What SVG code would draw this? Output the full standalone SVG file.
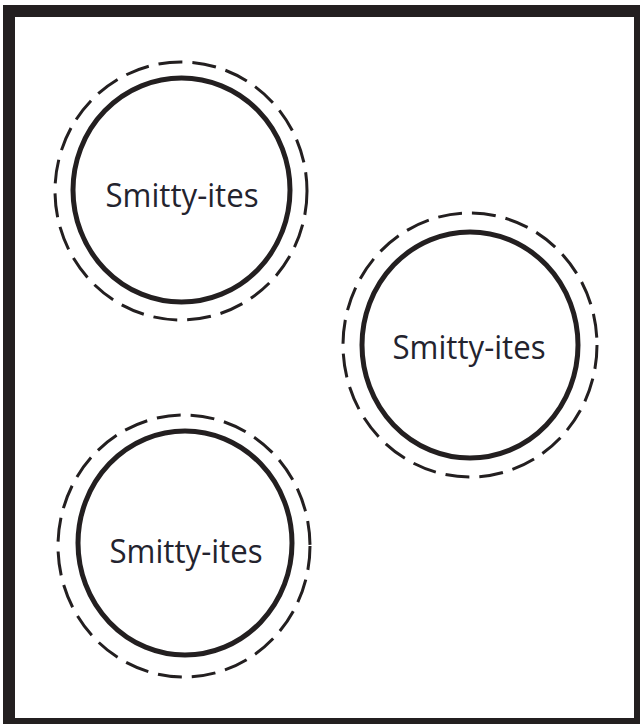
<svg xmlns="http://www.w3.org/2000/svg" width="643" height="727" viewBox="0 0 643 727">
<style>
.solid{fill:none;stroke:#231f20;stroke-width:5}
.dash{fill:none;stroke:#231f20;stroke-width:3;stroke-dasharray:24 10}
.lbl{font-family:"Open Sans","Noto Sans",sans-serif;font-size:33px;fill:#23232e;text-anchor:middle}
</style>
<rect width="643" height="727" fill="#ffffff"/>
<path d="M3,5 L640,5 L640,724 L3,724 Z M15,17 L634,17 L634,718 L15,718 Z" fill="#231f20" fill-rule="evenodd"/>
<g id="node1">
<ellipse class="dash" cx="181" cy="191" rx="126" ry="129"/>
<ellipse class="solid" cx="181.5" cy="190" rx="108.5" ry="112"/>
<text class="lbl" x="182" y="207" textLength="153" lengthAdjust="spacingAndGlyphs">Smitty-ites</text>
</g>
<g id="node2">
<ellipse class="dash" cx="470" cy="345" rx="127" ry="132"/>
<ellipse class="solid" cx="470" cy="345" rx="108" ry="113"/>
<text class="lbl" x="469" y="359" textLength="153" lengthAdjust="spacingAndGlyphs">Smitty-ites</text>
</g>
<g id="node3">
<ellipse class="dash" cx="184" cy="546" rx="126" ry="131"/>
<ellipse class="solid" cx="185" cy="543" rx="107" ry="112"/>
<text class="lbl" x="186" y="563" textLength="153" lengthAdjust="spacingAndGlyphs">Smitty-ites</text>
</g>
<g id="connectors"></g>
</svg>
